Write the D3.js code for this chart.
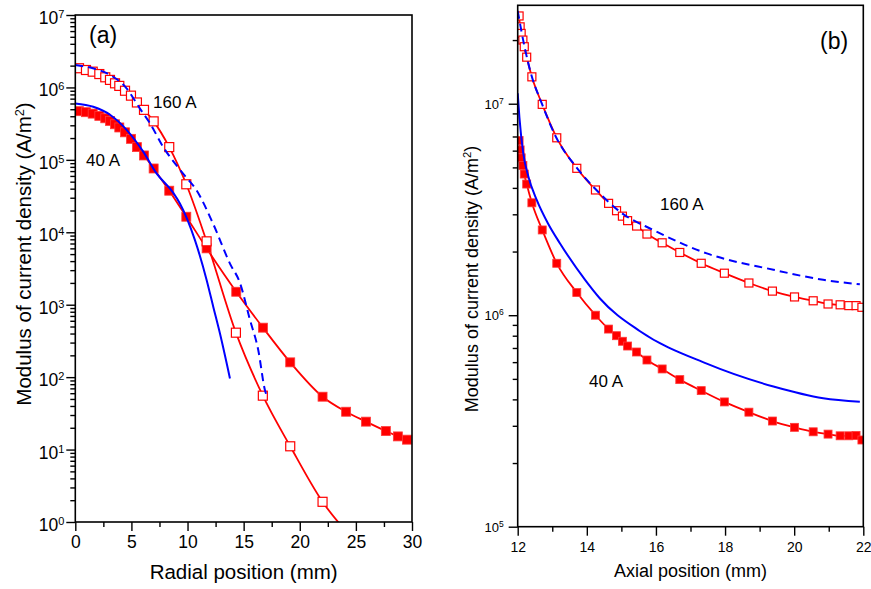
<!DOCTYPE html>
<html>
<head>
<meta charset="utf-8">
<script src="https://cdn.jsdelivr.net/npm/d3@7"></script>
<style>
  body { margin: 0; background: #fff; }
  svg { display: block; font-family: 'Liberation Sans', Arial, sans-serif; }
</style>
</head>
<body>
<svg id="chart" width="871" height="589"></svg>
<script>
/* Current density profiles: radial (a) and axial (b), 40 A and 160 A */

// (a) radial position (mm) vs |j| (A/m^2)
const radialSim160 = [[0.33, 1.84e6], [0.95, 1.74e6], [1.55, 1.65e6], [2.14, 1.53e6], [2.67, 1.38e6],
  [3.09, 1.27e6], [3.54, 1.14e6], [3.92, 1.05e6], [4.43, 9.0e5], [4.96, 7.7e5], [5.49, 6.2e5],
  [6.12, 4.9e5], [6.98, 3.4e5], [8.37, 1.5e5], [9.89, 4.6e4], [11.7, 7.5e3], [14.31, 411],
  [16.71, 55.5], [19.15, 11.1], [22.03, 1.9], [24.9, 0.55]];
const radialSim40 = [[0.33, 4.7e5], [0.95, 4.55e5], [1.55, 4.35e5], [2.14, 4.05e5], [2.67, 3.75e5],
  [3.09, 3.45e5], [3.54, 3.1e5], [3.92, 2.8e5], [4.43, 2.4e5], [4.96, 1.95e5], [5.49, 1.5e5],
  [6.12, 1.15e5], [6.98, 7.6e4], [8.37, 3.75e4], [9.89, 1.64e4], [11.7, 6.0e3], [14.34, 1.51e3],
  [16.72, 482], [19.15, 160], [22.03, 53.7], [24.13, 33.3], [25.9, 24.3], [27.67, 18.0],
  [28.74, 15.2], [29.55, 13.7]];
const radialModel160 = [[0, 2.04e6], [1.5, 1.85e6], [2.8, 1.57e6], [4.57, 9.7e5], [5.76, 5.1e5],
  [6.65, 3.2e5], [7.84, 1.5e5], [9.62, 6.4e4], [10.8, 3.8e4], [12.29, 1.3e4], [13.78, 3.7e3],
  [14.67, 2.0e3], [15.56, 620], [16.3, 237], [16.9, 66], [17.04, 56]];
const radialModel40 = [[0, 6.0e5], [1.6, 5.4e5], [3.09, 4.2e5], [4.57, 2.6e5], [6.05, 1.3e5],
  [7.24, 6.5e4], [8.73, 3.5e4], [9.32, 2.5e4], [10.66, 7.8e3], [11.7, 2.2e3], [12.29, 940],
  [12.89, 400], [13.78, 96]];

// (b) axial position (mm) vs |j| (A/m^2)
const axialSim160 = [[12.04, 2.6e7], [12.07, 2.31e7], [12.1, 2.15e7], [12.15, 2.0e7], [12.19, 1.86e7],
  [12.26, 1.66e7], [12.41, 1.34e7], [12.71, 9.93e6], [13.13, 6.9e6], [13.71, 4.95e6], [14.25, 3.91e6],
  [14.63, 3.38e6], [14.86, 3.12e6], [15.03, 2.94e6], [15.18, 2.8e6], [15.44, 2.64e6], [15.74, 2.42e6],
  [16.18, 2.2e6], [16.69, 1.98e6], [17.31, 1.76e6], [17.98, 1.58e6], [18.69, 1.42e6], [19.37, 1.3e6],
  [20.01, 1.22e6], [20.55, 1.17e6], [20.98, 1.13e6], [21.33, 1.12e6], [21.58, 1.11e6],
  [21.79, 1.11e6], [21.96, 1.09e6]];
const axialSim40 = [[12.04, 6.7e6], [12.07, 6.05e6], [12.1, 5.55e6], [12.15, 5.1e6], [12.19, 4.65e6],
  [12.26, 4.17e6], [12.41, 3.4e6], [12.71, 2.53e6], [13.13, 1.76e6], [13.71, 1.28e6], [14.25, 1.0e6],
  [14.63, 8.6e5], [14.86, 8.0e5], [15.03, 7.53e5], [15.18, 7.15e5], [15.44, 6.7e5], [15.74, 6.14e5],
  [16.18, 5.57e5], [16.69, 4.96e5], [17.31, 4.4e5], [17.98, 3.89e5], [18.69, 3.48e5], [19.37, 3.16e5],
  [20.01, 2.95e5], [20.55, 2.81e5], [20.98, 2.74e5], [21.33, 2.69e5], [21.58, 2.69e5],
  [21.79, 2.7e5], [21.96, 2.57e5]];
const axialModel160 = [[12.0, 2.75e7], [12.2, 1.85e7], [12.4, 1.36e7], [12.7, 1.0e7], [13.1, 7.0e6],
  [13.7, 5.0e6], [14.25, 3.95e6], [15.0, 3.05e6], [15.92, 2.53e6], [17.47, 1.96e6], [19.4, 1.64e6],
  [20.84, 1.47e6], [21.9, 1.4e6]];
const axialModel40 = [[12.0, 1.12e7], [12.05, 8.6e6], [12.16, 5.84e6], [12.31, 4.52e6], [12.55, 3.51e6],
  [12.885, 2.7e6], [13.22, 2.19e6], [13.95, 1.47e6], [14.38, 1.2e6], [15.54, 8.4e5], [17.47, 5.9e5],
  [19.4, 4.6e5], [20.84, 4.05e5], [21.9, 3.9e5]];

const radialTicks = [0, 5, 10, 15, 20, 25, 30];
const radialMinor = [2.5, 7.5, 12.5, 17.5, 22.5, 27.5];
const axialTicks = [12, 14, 16, 18, 20, 22];
const axialMinor = [13, 15, 17, 19, 21];

const RED = '#ff0000';
const BLUE = '#0000ff';
const svg = d3.select('#chart');

function drawPanel(p) {
  const x = d3.scaleLinear().domain(p.xDomain).range([p.left, p.right]);
  const y = d3.scaleLog().domain(p.yDomain).range([p.bottom, p.top]);
  const g = svg.append('g');

  svg.append('clipPath').attr('id', 'clip-' + p.id).append('rect')
    .attr('x', p.left).attr('y', p.top)
    .attr('width', p.right - p.left).attr('height', p.bottom - p.top);

  // log ticks: decades + 2..9 minors
  const decades = d3.range(Math.floor(Math.log10(p.yDomain[0])), Math.ceil(Math.log10(p.yDomain[1])));
  const minorY = [];
  decades.forEach((e) => d3.range(2, 10).forEach((k) => {
    const v = k * Math.pow(10, e);
    if (v <= p.yDomain[1]) minorY.push(v);
  }));
  const majorY = d3.range(decades[0], decades[decades.length - 1] + 2)
    .map((e) => Math.pow(10, e)).filter((v) => v <= p.yDomain[1] * 1.0001);

  g.append('g').attr('transform', `translate(${p.left},0)`)
    .call(d3.axisLeft(y).tickValues(minorY).tickSize(p.minorLen).tickSizeOuter(0).tickFormat(''));
  const yAx = g.append('g').attr('transform', `translate(${p.left},0)`)
    .call(d3.axisLeft(y).tickValues(majorY).tickSize(p.majorLen).tickSizeOuter(0).tickFormat(''));
  yAx.selectAll('.tick text').remove();
  yAx.selectAll('.tick').append('text')
    .attr('x', -p.majorLen - p.yLabelGap)
    .attr('y', p.yLabelDy)
    .attr('text-anchor', 'end')
    .attr('fill', '#000')
    .attr('font-size', p.tickFont)
    .each(function (d) {
      const t = d3.select(this);
      t.append('tspan').text('10');
      t.append('tspan').attr('font-size', p.supFont).attr('dy', p.supDy)
        .text(Math.round(Math.log10(d)));
    });

  g.append('g').attr('transform', `translate(0,${p.bottom})`)
    .call(d3.axisBottom(x).tickValues(p.xMinor).tickSize(p.minorLen).tickSizeOuter(0).tickFormat(''));
  const xAx = g.append('g').attr('transform', `translate(0,${p.bottom})`)
    .call(d3.axisBottom(x).tickValues(p.xTicks).tickSize(p.majorLen).tickSizeOuter(0).tickFormat(d3.format('d')));
  xAx.selectAll('.tick text')
    .attr('y', p.xLabelY).attr('dy', null)
    .attr('font-size', p.xTickFont).attr('fill', '#000');
  g.selectAll('g').attr('font-family', null);

  g.selectAll('.domain').remove();
  g.selectAll('.tick line').attr('stroke', '#000').attr('stroke-width', 1.4);

  // data
  const line = d3.line().x((d) => x(d[0])).y((d) => y(d[1])).curve(d3.curveMonotoneX);
  const plot = svg.append('g').attr('clip-path', `url(#clip-${p.id})`);

  [p.sim160, p.sim40].forEach((s) => {
    plot.append('path').datum(s).attr('d', line)
      .attr('fill', 'none').attr('stroke', RED).attr('stroke-width', 1.8);
  });
  const ms = p.markerSize;
  plot.selectAll('rect.filled').data(p.sim40).join('rect').attr('class', 'filled')
    .attr('x', (d) => x(d[0]) - ms / 2).attr('y', (d) => y(d[1]) - ms / 2)
    .attr('width', ms).attr('height', ms)
    .attr('fill', RED).attr('stroke', '#ff3a3a').attr('stroke-width', 0.8);
  plot.selectAll('rect.open').data(p.sim160).join('rect').attr('class', 'open')
    .attr('x', (d) => x(d[0]) - ms / 2).attr('y', (d) => y(d[1]) - ms / 2)
    .attr('width', ms).attr('height', ms)
    .attr('fill', '#fff').attr('stroke', RED).attr('stroke-width', 1.2);

  plot.append('path').datum(p.model40).attr('d', line)
    .attr('fill', 'none').attr('stroke', BLUE).attr('stroke-width', 2);
  plot.append('path').datum(p.model160).attr('d', line)
    .attr('fill', 'none').attr('stroke', BLUE).attr('stroke-width', 2)
    .attr('stroke-dasharray', '8,5');

  // frame
  svg.append('rect')
    .attr('x', p.left).attr('y', p.top)
    .attr('width', p.right - p.left).attr('height', p.bottom - p.top)
    .attr('fill', 'none').attr('stroke', '#000').attr('stroke-width', 1.6);

  // titles
  svg.append('text')
    .attr('x', (p.left + p.right) / 2).attr('y', p.xTitleY)
    .attr('text-anchor', 'middle').attr('font-size', p.titleFont)
    .text(p.xTitle);
  const yt = svg.append('text')
    .attr('transform', `translate(${p.yTitleX},${p.yTitleY}) rotate(-90)`)
    .attr('text-anchor', 'middle').attr('font-size', p.titleFont);
  yt.append('tspan').text('Modulus of current density (A/m');
  yt.append('tspan').attr('font-size', '0.62em').attr('dy', '-0.55em').text('2');
  yt.append('tspan').attr('dy', '0.34em').text(')');

  p.labels.forEach((l) => {
    svg.append('text').attr('x', l.x).attr('y', l.y)
      .attr('font-size', l.size).text(l.text);
  });
}

drawPanel({
  id: 'a', left: 75.3, right: 412, top: 15, bottom: 522,
  xDomain: [0, 30], yDomain: [1, 1e7],
  xTicks: radialTicks, xMinor: radialMinor,
  majorLen: 9, minorLen: 5,
  tickFont: 17.5, supFont: 11, supDy: -6, yLabelDy: 8.5, yLabelGap: 2,
  xTickFont: 17.5, xLabelY: 26,
  sim160: radialSim160, sim40: radialSim40, model160: radialModel160, model40: radialModel40,
  markerSize: 9,
  titleFont: 20.5, xTitle: 'Radial position (mm)', xTitleY: 579,
  yTitleX: 31, yTitleY: 254,
  labels: [
    { x: 89, y: 42.5, size: 23, text: '(a)' },
    { x: 153, y: 108, size: 17, text: '160 A' },
    { x: 86, y: 166, size: 17, text: '40 A' },
  ],
});

drawPanel({
  id: 'b', left: 517.7, right: 863.3, top: 5.3, bottom: 526.7,
  xDomain: [12, 22], yDomain: [1e5, 2.92e7],
  xTicks: axialTicks, xMinor: axialMinor,
  majorLen: 9, minorLen: 5,
  tickFont: 13, supFont: 8.5, supDy: -5, yLabelDy: 4.5, yLabelGap: 5,
  xTickFont: 14, xLabelY: 25,
  sim160: axialSim160, sim40: axialSim40, model160: axialModel160, model40: axialModel40,
  markerSize: 8,
  titleFont: 18, xTitle: 'Axial position (mm)', xTitleY: 577,
  yTitleX: 477.5, yTitleY: 279,
  labels: [
    { x: 820, y: 48.5, size: 23, text: '(b)' },
    { x: 660, y: 210, size: 17, text: '160 A' },
    { x: 589, y: 386.7, size: 17, text: '40 A' },
  ],
});
</script>
</body>
</html>
